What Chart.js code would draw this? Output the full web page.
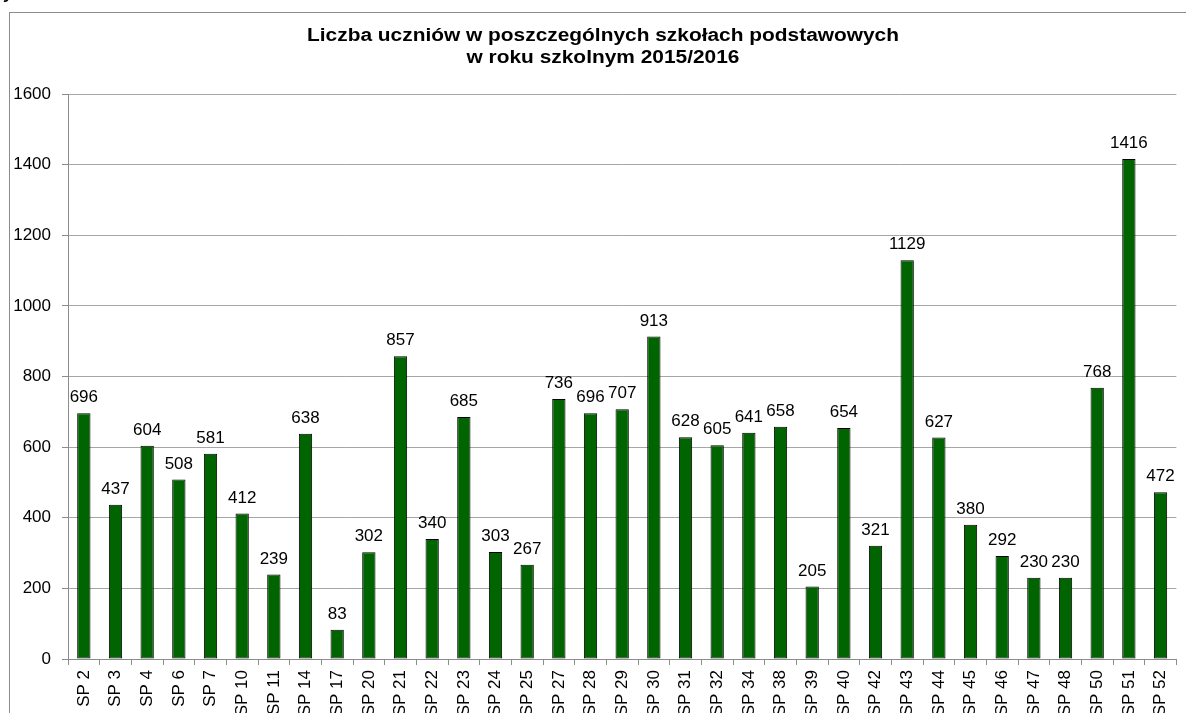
<!DOCTYPE html>
<html lang="pl">
<head>
<meta charset="UTF-8">
<title>Liczba uczniów</title>
<script src="https://cdn.jsdelivr.net/npm/chart.js"></script>
<style>
    html, body { margin: 0; padding: 0; background: #fff; overflow: hidden; }
    canvas { display: block; }
</style>
</head>
<body>
<canvas id="chart" width="1186" height="713"></canvas>
<script>
const schools = ['SP 2', 'SP 3', 'SP 4', 'SP 6', 'SP 7', 'SP 10', 'SP 11', 'SP 14', 'SP 17', 'SP 20',
    'SP 21', 'SP 22', 'SP 23', 'SP 24', 'SP 25', 'SP 27', 'SP 28', 'SP 29', 'SP 30', 'SP 31',
    'SP 32', 'SP 34', 'SP 38', 'SP 39', 'SP 40', 'SP 42', 'SP 43', 'SP 44', 'SP 45', 'SP 46',
    'SP 47', 'SP 48', 'SP 50', 'SP 51', 'SP 52'];
const pupils = [696, 437, 604, 508, 581, 412, 239, 638, 83, 302,
    857, 340, 685, 303, 267, 736, 696, 707, 913, 628,
    605, 641, 658, 205, 654, 321, 1129, 627, 380, 292,
    230, 230, 768, 1416, 472];
const titleLines = ['Liczba uczniów w poszczególnych szkołach podstawowych', 'w roku szkolnym 2015/2016'];

const FONT = '"Liberation Sans", Arial, sans-serif';

// frame + title drawn by hand, like the spreadsheet export
const framePlugin = {
    id: 'frame',
    beforeDraw(chart) {
        const ctx = chart.ctx;
        ctx.save();
        ctx.fillStyle = '#fff';
        ctx.fillRect(0, 0, chart.width, chart.height);
        ctx.strokeStyle = '#8c8c8c';
        ctx.lineWidth = 1;
        ctx.strokeRect(9.5, 12.5, 1250, 800);
        ctx.fillStyle = '#000';
        ctx.font = 'bold 17px ' + FONT;
        ctx.fillText('y', 3, -1); // tail of the text above the frame
        // the exported title is a bit wider than plain Arial bold
        ctx.font = 'bold 18px ' + FONT;
        ctx.textAlign = 'center';
        const stretch = 592 / ctx.measureText(titleLines[0]).width;
        ctx.translate(603, 0);
        ctx.scale(stretch, 1);
        ctx.fillText(titleLines[0], 0, 41);
        ctx.fillText(titleLines[1], 0, 63);
        ctx.restore();
    }
};

// value above every bar
const valuePlugin = {
    id: 'values',
    afterDatasetsDraw(chart) {
        const ctx = chart.ctx;
        const meta = chart.getDatasetMeta(0);
        ctx.save();
        ctx.fillStyle = '#000';
        ctx.font = '17px ' + FONT;
        ctx.textAlign = 'center';
        meta.data.forEach((bar, i) => {
            ctx.fillText(pupils[i], bar.x, bar.y - 11);
        });
        ctx.restore();
    }
};

new Chart(document.getElementById('chart'), {
    type: 'bar',
    data: {
        labels: schools,
        datasets: [{
            data: pupils,
            backgroundColor: '#006400',
            borderColor: '#000',
            borderWidth: 1,
            borderSkipped: false,
            categoryPercentage: 1,
            barPercentage: 0.42
        }]
    },
    options: {
        responsive: false,
        animation: false,
        devicePixelRatio: 1,
        layout: { padding: { top: 94, right: 5, left: 0, bottom: 0 } },
        plugins: {
            legend: { display: false },
            title: { display: false },
            tooltip: { enabled: false }
        },
        scales: {
            y: {
                min: 0,
                max: 1600,
                afterFit(scale) { scale.width = 68; },
                ticks: {
                    stepSize: 200,
                    color: '#000',
                    padding: 11,
                    font: { family: FONT, size: 17 },
                    callback: v => String(v)
                },
                grid: { color: '#a6a6a6', tickColor: '#8c8c8c', tickLength: 6 },
                border: { color: '#8c8c8c' }
            },
            x: {
                afterFit(scale) { scale.height = 54; },
                ticks: {
                    minRotation: 90,
                    maxRotation: 90,
                    autoSkip: false,
                    color: '#000',
                    padding: 5,
                    font: { family: FONT, size: 17 }
                },
                grid: { drawOnChartArea: false, offset: true, tickColor: '#8c8c8c', tickLength: 6 },
                border: { color: '#8c8c8c' }
            }
        }
    },
    plugins: [framePlugin, valuePlugin]
});
</script>
</body>
</html>
